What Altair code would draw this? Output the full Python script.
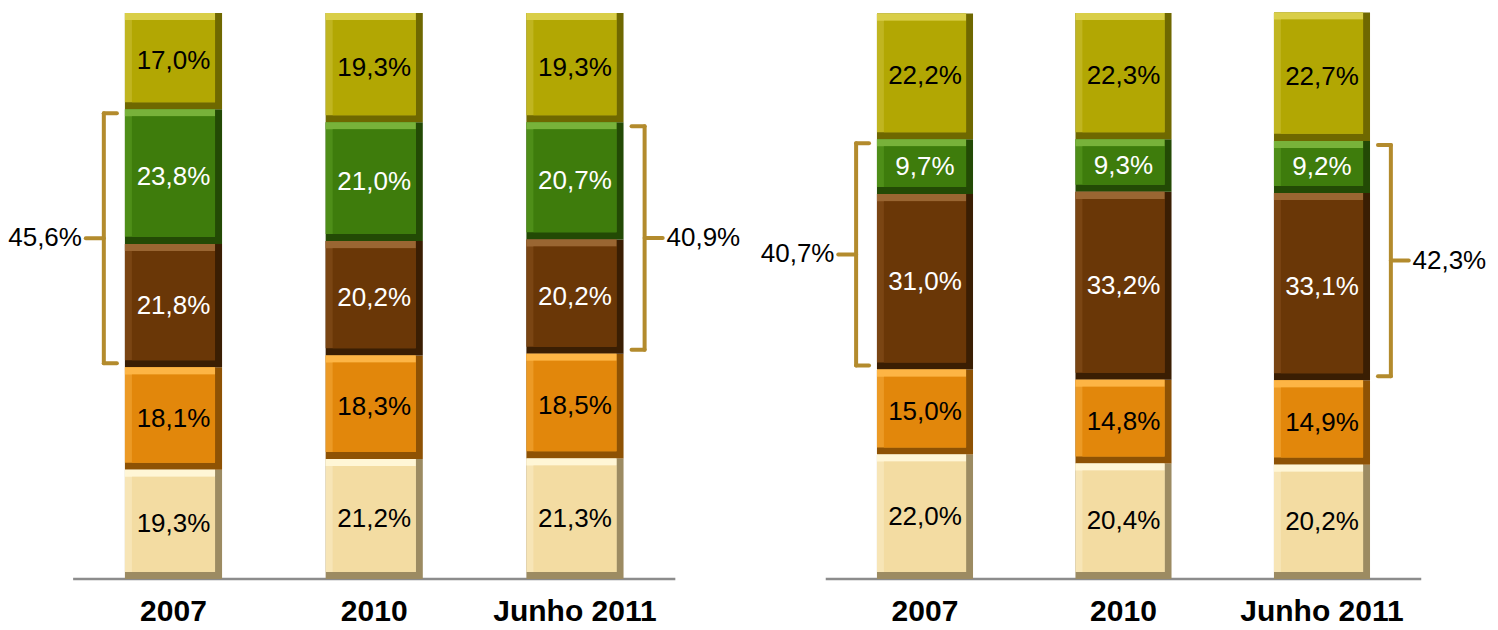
import altair as alt
import pandas as pd

# ---------------- data ----------------
years = ["2007", "2010", "Junho 2011"]
categories = ["Faixa 1", "Faixa 2", "Faixa 3", "Faixa 4", "Faixa 5"]  # bottom -> top

left_values = {
    "Faixa 1": [19.3, 21.2, 21.3],
    "Faixa 2": [18.1, 18.3, 18.5],
    "Faixa 3": [21.8, 20.2, 20.2],
    "Faixa 4": [23.8, 21.0, 20.7],
    "Faixa 5": [17.0, 19.3, 19.3],
}
right_values = {
    "Faixa 1": [22.0, 20.4, 20.2],
    "Faixa 2": [15.0, 14.8, 14.9],
    "Faixa 3": [31.0, 33.2, 33.1],
    "Faixa 4": [9.7, 9.3, 9.2],
    "Faixa 5": [22.2, 22.3, 22.7],
}
bracket_cats = ["Faixa 3", "Faixa 4"]

# ---------------- style ----------------
face = ["#F3DCA2", "#E2870B", "#6A3707", "#3E7C0C", "#B2A703"]
light = ["#FFF6D6", "#FDB545", "#9A6632", "#78B23A", "#D9CE48"]
mid = ["#F7E5B6", "#EC9A25", "#7A4513", "#4E8E18", "#C0B520"]
dark = ["#9C8B62", "#8E5204", "#3A1E03", "#234A05", "#6F6800"]
text_colors = ["black", "black", "white", "white", "black"]
GOLD = "#B38B2D"
FONT = "Liberation Sans"

W, H = 741, 614
YMIN, YMAX = -7.597, 100.883
HALF = 0.242
BEVX, BEVY = 0.035, 1.25


def fmt(v):
    return f"{v:.1f}".replace(".", ",") + "%"


def build_panel(vals, xdom):
    rows = []
    for i, yr in enumerate(years):
        base = 0.0
        for c in categories:
            v = vals[c][i]
            rows.append(dict(year=yr, pos=i + 1, cat=c, value=v,
                             y0=base, y1=base + v, label=fmt(v)))
            base += v
    df = pd.DataFrame(rows)
    df["xl"] = df["pos"] - HALF
    df["xr"] = df["pos"] + HALF
    df["xl_in"] = df["xl"] + BEVX
    df["xr_in"] = df["xr"] - BEVX
    df["y0_in"] = df["y0"] + BEVY
    df["y1_in"] = df["y1"] - BEVY
    df["ymid"] = (df["y0"] + df["y1"]) / 2

    xs = alt.Scale(domain=xdom, nice=False, zero=False)
    ys = alt.Scale(domain=[YMIN, YMAX], nice=False, zero=False)
    base = alt.Chart(df)

    def rect(x, x2, y, y2, rng):
        return base.mark_rect().encode(
            x=alt.X(f"{x}:Q", scale=xs, axis=None),
            x2=f"{x2}:Q",
            y=alt.Y(f"{y}:Q", scale=ys, axis=None),
            y2=f"{y2}:Q",
            color=alt.Color("cat:N", scale=alt.Scale(domain=categories, range=rng), legend=None),
        )

    l_dark = rect("xl", "xr", "y0", "y1", dark)
    l_mid = rect("xl", "xr_in", "y0_in", "y1", mid)
    l_light = rect("xl", "xr_in", "y1_in", "y1", light)
    l_face = rect("xl_in", "xr_in", "y0_in", "y1_in", face)

    l_text = base.mark_text(font=FONT, fontSize=26, baseline="middle").encode(
        x=alt.X("pos:Q", scale=xs, axis=None),
        y=alt.Y("ymid:Q", scale=ys, axis=None),
        text="label:N",
        color=alt.Color("cat:N", scale=alt.Scale(domain=categories, range=text_colors), legend=None),
    )

    # baseline
    bl = pd.DataFrame({"x": [0.5], "x2": [len(years) + 0.5], "y": [0.0]})
    l_base = alt.Chart(bl).mark_rule(color="#8c8c8c", strokeWidth=2.5).encode(
        x=alt.X("x:Q", scale=xs, axis=None), x2="x2:Q",
        y=alt.Y("y:Q", scale=ys, axis=None),
    )

    # year labels
    yl = pd.DataFrame({"pos": list(range(1, len(years) + 1)), "year": years, "y": [-7.42] * len(years)})
    l_years = alt.Chart(yl).mark_text(font=FONT, fontSize=30, fontWeight="bold",
                                      baseline="alphabetic").encode(
        x=alt.X("pos:Q", scale=xs, axis=None),
        y=alt.Y("y:Q", scale=ys, axis=None),
        text="year:N",
    )

    # brackets (first year on the left side, last year on the right side)
    seg_rows, lab_left, lab_right = [], [], []
    inset = 0.7
    for idx, side in [(0, -1), (len(years) - 1, 1)]:
        sub = df[(df["pos"] == idx + 1) & (df["cat"].isin(bracket_cats))]
        lo = sub["y0"].min() + inset
        hi = sub["y1"].max() - inset
        total = sub["value"].sum()
        p = idx + 1
        vx = p + side * (HALF + 0.105)
        tick_end = vx - side * 0.065
        mid_end = vx + side * 0.09
        ym = (lo + hi) / 2
        seg_rows += [
            dict(x=vx, x2=vx, y=lo, y2=hi),
            dict(x=vx, x2=tick_end, y=hi, y2=hi),
            dict(x=vx, x2=tick_end, y=lo, y2=lo),
            dict(x=vx, x2=mid_end, y=ym, y2=ym),
        ]
        row = dict(x=p + side * 0.456, y=ym, label=fmt(total))
        (lab_left if side < 0 else lab_right).append(row)
    segs = pd.DataFrame(seg_rows)
    l_br = alt.Chart(segs).mark_rule(color=GOLD, strokeWidth=4, strokeCap="round").encode(
        x=alt.X("x:Q", scale=xs, axis=None), x2="x2:Q",
        y=alt.Y("y:Q", scale=ys, axis=None), y2="y2:Q",
    )
    l_bl_left = alt.Chart(pd.DataFrame(lab_left)).mark_text(
        font=FONT, fontSize=26, align="right", baseline="middle", color="black").encode(
        x=alt.X("x:Q", scale=xs, axis=None), y=alt.Y("y:Q", scale=ys, axis=None), text="label:N")
    l_bl_right = alt.Chart(pd.DataFrame(lab_right)).mark_text(
        font=FONT, fontSize=26, align="left", baseline="middle", color="black").encode(
        x=alt.X("x:Q", scale=xs, axis=None), y=alt.Y("y:Q", scale=ys, axis=None), text="label:N")

    return alt.layer(l_base, l_dark, l_mid, l_light, l_face, l_text, l_years,
                     l_br, l_bl_left, l_bl_right).resolve_scale(color="independent").properties(
        width=W, height=H)


left = build_panel(left_values, [0.1756, 3.867])
right = build_panel(right_values, [0.1134, 3.8464])

chart = alt.hconcat(left, right, spacing=0).properties(padding=0, background="white").configure_view(
    stroke=None)

chart.save("out.html", embed_options={"renderer": "svg", "actions": False})
